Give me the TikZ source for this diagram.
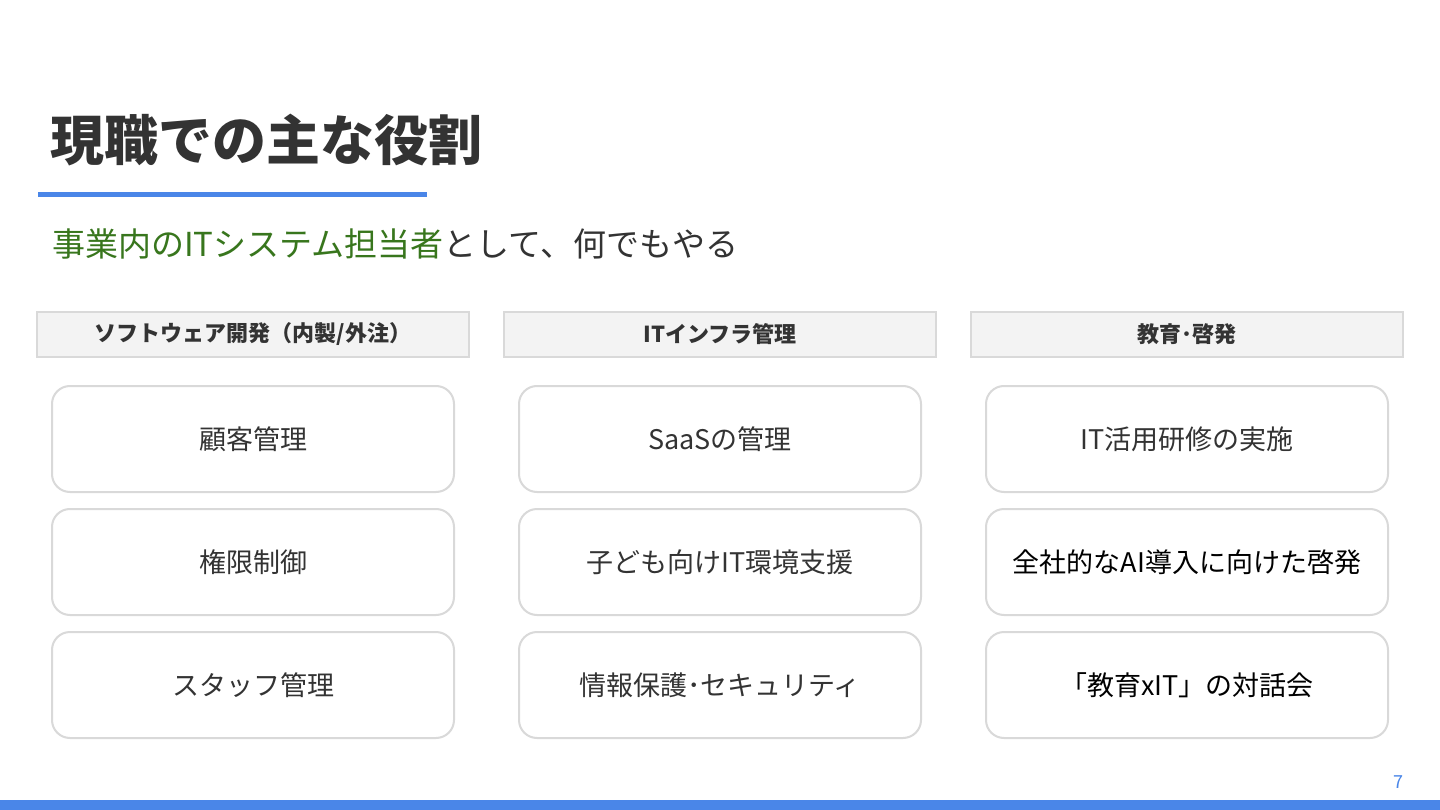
\documentclass[tikz,border=0pt]{standalone}
\usepackage{fontspec}
\setmainfont{Noto Sans CJK JP}
\definecolor{titlec}{HTML}{333333}
\definecolor{accent}{HTML}{4A86E8}
\definecolor{greenc}{HTML}{38761D}
\definecolor{hdrfill}{HTML}{F3F3F3}
\definecolor{linec}{HTML}{D9D9D9}
\begin{document}
\begin{tikzpicture}[x=1pt,y=-1pt,
  hdr/.style={draw=linec, line width=1.5pt, fill=hdrfill, minimum width=432pt, minimum height=45pt, inner sep=0pt, text=titlec, font=\bfseries\fontsize{22}{26}\selectfont},
  card/.style={draw=linec, line width=2pt, fill=white, rounded corners=18pt, minimum width=402pt, minimum height=106pt, inner sep=0pt, text=titlec, font=\fontsize{27}{32}\selectfont}]
\useasboundingbox (0,0) rectangle (1440,810);
\fill[white] (0,0) rectangle (1440,810);
\node[anchor=west, inner sep=0pt, text=titlec, font=\bfseries\fontsize{54}{62}\selectfont] (title) at (50,140) {現職での主な役割};
\fill[accent] (38,192) rectangle (427,197);
\node[anchor=west, inner sep=0pt, text=titlec, font=\fontsize{33}{40}\selectfont] (sub) at (52,244) {\textcolor{greenc}{事業内のITシステム担当者}として、何でもやる};
\node[hdr] (h1) at (253,334.5) {ソフトウェア開発（内製/外注）};
\node[hdr] (h2) at (720,334.5) {ITインフラ管理};
\node[hdr] (h3) at (1187,334.5) {教育･啓発};
\node[card] (c11) at (253,439) {顧客管理};
\node[card] (c12) at (253,562) {権限制御};
\node[card] (c13) at (253,685) {スタッフ管理};
\node[card] (c21) at (720,439) {SaaSの管理};
\node[card] (c22) at (720,562) {子ども向けIT環境支援};
\node[card] (c23) at (720,685) {情報保護･セキュリティ};
\node[card] (c31) at (1187,439) {IT活用研修の実施};
\node[card, text=black] (c32) at (1187,562) {全社的なAI導入に向けた啓発};
\node[card, text=black] (c33) at (1187,685) {「教育xIT」の対話会};
\node[text=accent, inner sep=0pt, font=\fontsize{18}{20}\selectfont] (pg) at (1398,782) {7};
\fill[accent] (0,800) rectangle (1440,810);
\end{tikzpicture}
\end{document}
